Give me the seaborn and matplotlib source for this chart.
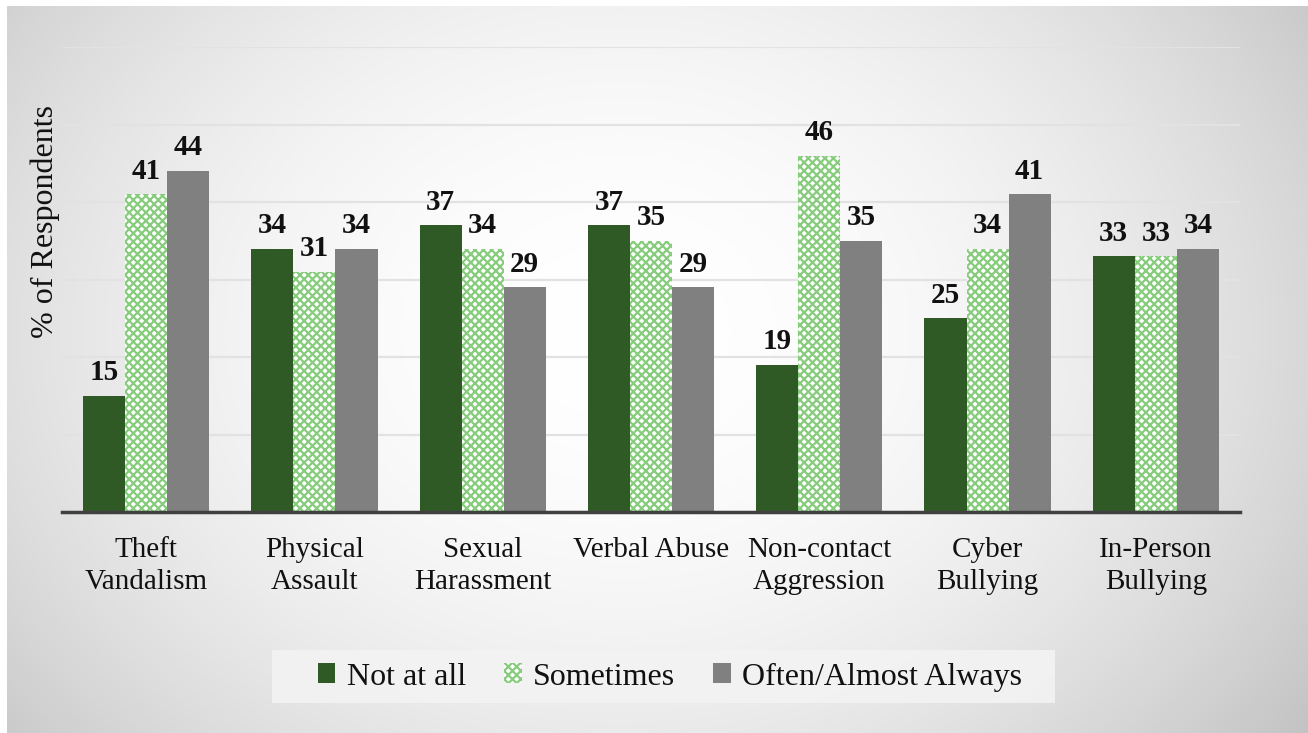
import numpy as np
import pandas as pd
import matplotlib
matplotlib.use("Agg")
import matplotlib.pyplot as plt
import seaborn as sns
from matplotlib.patches import Patch, Rectangle

categories = ["Theft\nVandalism", "Physical\nAssault", "Sexual\nHarassment", "Verbal Abuse",
              "Non-contact\nAggression", "Cyber\nBullying", "In-Person\nBullying"]
series_names = ["Not at all", "Sometimes", "Often/Almost Always"]
not_at_all = [15, 34, 37, 37, 19, 25, 33]
sometimes = [41, 31, 34, 35, 46, 34, 33]
often = [44, 34, 29, 29, 35, 41, 34]

rows = []
for name, vals in zip(series_names, [not_at_all, sometimes, often]):
    for c, v in zip(categories, vals):
        rows.append({"Category": c, "Series": name, "Value": v})
df = pd.DataFrame(rows)

sns.set_theme(style="white")
plt.rcParams['font.family'] = ['Liberation Serif', 'DejaVu Serif']
plt.rcParams['hatch.linewidth'] = 1.6

W, H = 1308, 733
fig = plt.figure(figsize=(W / 100, H / 100), dpi=100)

# background radial gradient
bg = fig.add_axes([0, 0, 1, 1])
yy, xx = np.mgrid[0:H, 0:W]
cx, cy = 620, 330
r2 = ((xx - cx) / 700.0) ** 2 + ((yy - cy) / 560.0) ** 2
val = 1.0 - 0.16 * r2
img = np.dstack([val, val, val])
img[:6, :, :] = 1.0
img[:, :7, :] = 1.0
bg.imshow(np.clip(img, 0, 1), aspect='auto', extent=[0, W, H, 0], interpolation='bilinear')
bg.set_xlim(0, W)
bg.set_ylim(H, 0)
bg.set_axis_off()

# legend box background
bg.add_patch(Rectangle((272, 650), 1055 - 272, 703 - 650, facecolor='#f3f3f3',
                       edgecolor='none', alpha=0.9, zorder=5))

ax = fig.add_axes([62 / W, 1 - 512 / H, (1240 - 62) / W, (512 - 47) / H])
ax.patch.set_alpha(0)

palette = {"Not at all": "#2f5a26", "Sometimes": "#ffffff", "Often/Almost Always": "#808080"}
sns.barplot(data=df, x="Category", y="Value", hue="Series", hue_order=series_names,
            order=categories, palette=palette, width=0.75, ax=ax, saturation=1,
            legend=False, linewidth=0)

containers = ax.containers
for bar in containers[1]:
    bar.set_hatch("xxxx")
    bar.set_edgecolor("#86cc7c")
    bar.set_linewidth(0)

for cont in containers:
    ax.bar_label(cont, labels=[f"{int(b.get_height())}" for b in cont], padding=7,
                 fontsize=21, fontweight='bold', color='#111111')

ax.set_ylim(0, 60)
ax.set_xlim(-0.5, 6.5)
ax.set_yticks(np.arange(0, 61, 10))
ax.yaxis.grid(True, color='#e2e2e2', linewidth=1.6)
ax.set_axisbelow(True)
ax.tick_params(axis='y', left=False, labelleft=False)
ax.tick_params(axis='x', bottom=False, pad=12, labelsize=21)
for lbl in ax.get_xticklabels():
    lbl.set_linespacing(1.3)
    lbl.set_color('#111111')
for s in ["top", "right", "left"]:
    ax.spines[s].set_visible(False)
ax.spines["bottom"].set_color('#404040')
ax.spines["bottom"].set_linewidth(2.5)
ax.set_xlabel("")
ax.set_ylabel("% of Respondents", fontsize=23, color='#111111')
ax.yaxis.set_label_coords(-2 / (1240 - 62), (512 - 222) / (512 - 47))

handles = [Patch(facecolor="#2f5a26", edgecolor='none'),
           Patch(facecolor="#ffffff", edgecolor="#86cc7c", hatch="xxxx", linewidth=0),
           Patch(facecolor="#808080", edgecolor='none')]
leg = fig.legend(handles, series_names, loc='center', bbox_to_anchor=(670 / W, 1 - 677 / H),
                 ncol=3, fontsize=23, frameon=False, handlelength=0.55, handleheight=0.6,
                 handletextpad=0.35, columnspacing=1.2, borderpad=0.2)
for t in leg.get_texts():
    t.set_color('#111111')

fig.savefig("out.png", dpi=100)
